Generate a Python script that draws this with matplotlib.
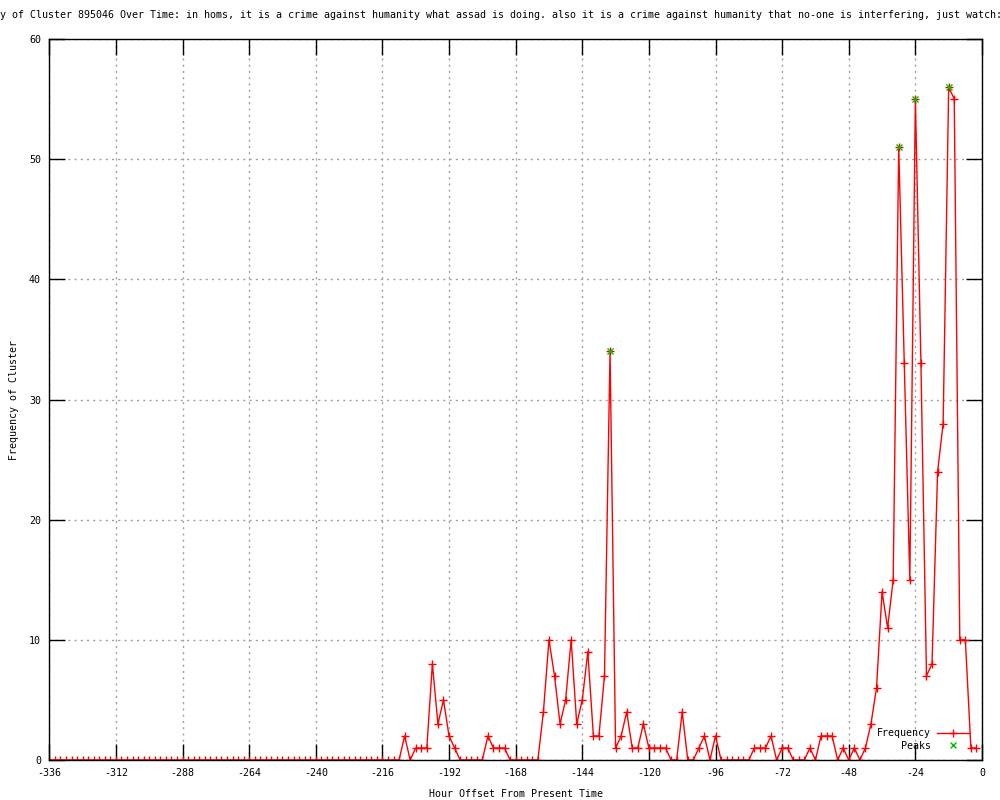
import numpy as np
import matplotlib.pyplot as plt

plt.rcParams['font.family'] = ['DejaVu Sans Mono']
plt.rcParams['axes.unicode_minus'] = False

# hours from present, 2 hour bins
hours = np.arange(-336, 0, 2)
freq = [0] * 64 + [
    2, 0, 1, 1, 1, 8, 3, 5, 2, 1,
    0, 0, 0, 0, 0, 2, 1, 1, 1, 0,
    0, 0, 0, 0, 0, 4, 10, 7, 3, 5,
    10, 3, 5, 9, 2, 2, 7, 34, 1, 2,
    4, 1, 1, 3, 1, 1, 1, 1, 0, 0,
    4, 0, 0, 1, 2, 0, 2, 0, 0, 0,
    0, 0, 0, 1, 1, 1, 2, 0, 1, 1,
    0, 0, 0, 1, 0, 2, 2, 2, 0, 1,
    0, 1, 0, 1, 3, 6, 14, 11, 15, 51,
    33, 15, 55, 33, 7, 8, 24, 28, 56, 55,
    10, 10, 1, 1,
]
peak_hours = [-134, -30, -24, -12]
peak_vals = [34, 51, 55, 56]

title = ("y of Cluster 895046 Over Time: in homs, it is a crime against humanity "
         "what assad is doing. also it is a crime against humanity that no-one "
         "is interfering, just watch:")

fs = 7.2
fig = plt.figure(figsize=(10, 8), dpi=100)
ax = fig.add_axes([0.0493, 0.05, 0.9327, 0.90125])

ax.plot(hours, freq, color='#ff0000', lw=1, marker='+', ms=6, mew=1,
        label='Frequency')
ax.plot(peak_hours, peak_vals, ls='none', color='#00c000', marker='x',
        ms=5, mew=1, label='Peaks')

ax.set_xlim(-336, 0)
ax.set_ylim(0, 60)
ax.set_xticks(range(-336, 1, 24))
ax.set_yticks(range(0, 61, 10))
ax.grid(True, color='#a0a0a0', ls=(0, (1.5, 3)), lw=1)
ax.set_axisbelow(True)
ax.tick_params(direction='in', length=11.5, width=1, top=True, right=True,
               labelsize=fs, pad=6, color='black')
for s in ax.spines.values():
    s.set_linewidth(1)

ax.set_xlabel('Hour Offset From Present Time', fontsize=fs, labelpad=8)
ax.set_ylabel('Frequency of Cluster', fontsize=fs, labelpad=7)
fig.text(0.0, 0.981, title, fontsize=fs, ha='left', va='center')

ax.legend(loc='lower right', bbox_to_anchor=(0.986, 0.0125), frameon=False,
          markerfirst=False, fontsize=fs, handlelength=3.2, numpoints=1,
          borderpad=0, borderaxespad=0, labelspacing=0.25, handletextpad=0.6)

fig.savefig('out.png', dpi=100)
